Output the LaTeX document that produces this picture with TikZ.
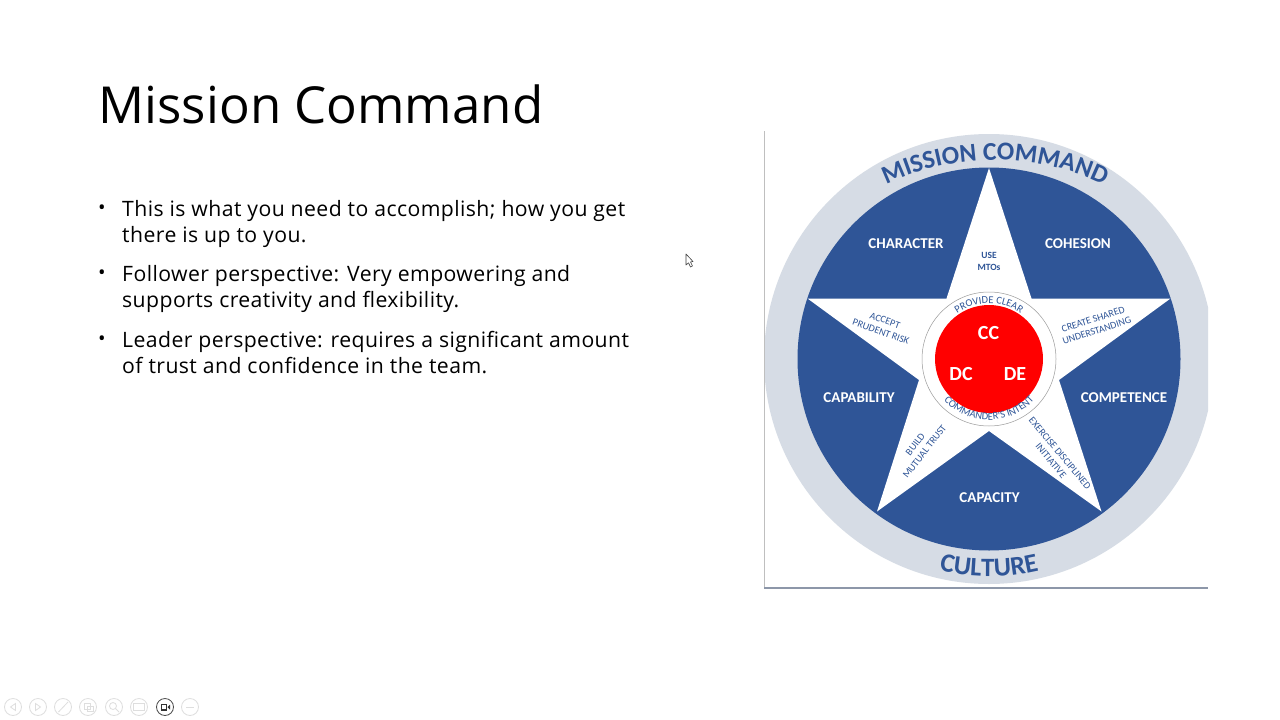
\documentclass[tikz,border=0pt]{standalone}
\usepackage{fontspec}
\setmainfont{Open Sans}
\newfontfamily\bodyfont[LetterSpace=2]{Open Sans}
\newfontfamily\starfont{Carlito}
\usetikzlibrary{decorations.text}
\definecolor{starblue}{HTML}{2F5597}
\definecolor{ringgray}{HTML}{D6DCE5}
\definecolor{toolgray}{HTML}{DEDEDE}
\newcommand{\px}[1]{\fontsize{#1}{#1}\selectfont}

\begin{document}
\begin{tikzpicture}[x=1pt,y=1pt,
	bodytext/.style={anchor=base west,align=left,inner sep=0pt,font=\bodyfont\fontsize{21.2}{26}\selectfont},
	dotmark/.style={inner sep=0pt,font=\px{20}},
	petal/.style={inner sep=0pt,text=white,font=\starfont\bfseries\px{15}},
	hint/.style={inner sep=0pt,align=center,text=starblue,font=\starfont\fontsize{10}{11.8}\selectfont},
	core/.style={inner sep=0pt,text=white,font=\starfont\bfseries\px{20}},
	tool/.style={draw=toolgray,line width=0.8pt}]
	\useasboundingbox (0,0) rectangle (1280,-720);
	\fill[white] (0,0) rectangle (1280,-720);

	\coordinate (centre) at (989,-359);
	\coordinate (flatcentre) at (995,-412);
	\node[anchor=west,inner sep=0pt,font=\fontsize{51}{51}\selectfont] (title) at (98.5,-104) {Mission Command};

	\node[dotmark] (dot1) at (102,-210) {•};
	\node[bodytext] (point1) at (122,-242) {This is what you need to accomplish; how you get\\there is up to you.};
	\node[dotmark] (dot2) at (102,-275) {•};
	\node[bodytext] (point2) at (122,-307) {Follower perspective: Very empowering and\\supports creativity and flexibility.};
	\node[dotmark] (dot3) at (102,-341) {•};
	\node[bodytext] (point3) at (122,-373) {Leader perspective: requires a significant amount\\of trust and confidence in the team.};

	% picture frame and the wheel
	\begin{scope}
		\clip (764,-131) rectangle (1208,-588);
		\fill[ringgray] (centre) circle (225);
	\end{scope}
	\draw[gray!50,line width=0.6pt] (764.5,-131) -- (764.5,-588);
	\draw[black!45!starblue!50,line width=1.5pt] (764,-588) -- (1208,-588);
	\fill[starblue] (centre) circle (191.5);
	\fill[white] (989,-168) -- (1031.5,-298.5) -- (1170.5,-298.5) -- (1059,-380) -- (1101.5,-511.5)
		-- (989,-431) -- (877,-511.5) -- (919,-380) -- (807.5,-298.5) -- (946.5,-298.5) -- cycle;
	\draw[gray!80,line width=0.5pt] (centre) circle (67);
	\fill[red] (centre) circle (54);

	\path[decorate,decoration={text along path,text align=center,
		text={|\starfont\bfseries\px{25.7}\color{starblue}|MISSION COMMAND}}]
		(flatcentre) ++(125:252) arc (125:55:252);
	\path[decorate,decoration={text along path,text align=center,
		text={|\starfont\bfseries\px{26.5}\color{starblue}|CULTURE}}]
		(centre) ++(240:217.5) arc (240:300:217.5);
	\path[decorate,decoration={text along path,text align=center,
		text={|\starfont\px{10.5}\color{starblue}|PROVIDE CLEAR}}]
		(centre) ++(150:55.5) arc (150:30:55.5);
	\path[decorate,decoration={text along path,text align=center,
		text={|\starfont\px{10.5}\color{starblue}|COMMANDER'S INTENT}}]
		(centre) ++(205:61) arc (205:335:61);

	\node[petal] (character) at (906,-244) {CHARACTER};
	\node[petal] (cohesion) at (1078,-244) {COHESION};
	\node[petal] (capability) at (859,-398) {CAPABILITY};
	\node[petal] (competence) at (1124,-398) {COMPETENCE};
	\node[petal] (capacity) at (989.5,-498) {CAPACITY};

	\node[hint,font=\starfont\bfseries\fontsize{9.5}{12}\selectfont] (mtos) at (989,-261.5) {USE\\MTOs};
	\node[hint,rotate=-20] (risk) at (883,-326) {ACCEPT\\PRUDENT RISK};
	\node[hint,rotate=18] (shared) at (1095,-325) {CREATE SHARED\\UNDERSTANDING};
	\node[hint,rotate=52] (trust) at (920,-448) {BUILD\\MUTUAL TRUST};
	\node[hint,rotate=-50] (initiative) at (1055.5,-457) {EXERCISE DISCIPLINED\\INITIATIVE};

	\node[core] (cc) at (988.5,-333.5) {CC};
	\node[core] (dc) at (961,-374.5) {DC};
	\node[core] (de) at (1015,-374.5) {DE};

	% slide show toolbar
	\foreach \x in {13,38,63,88,114,139,190}
		\draw[tool] (\x,-707) circle (8.5);
	\draw[black!70,line width=0.8pt] (165,-707) circle (8.5);
	\fill[black!80] (160.5,-710.5) rectangle (167,-703.5);
	\fill[white] (161.8,-709.2) rectangle (165.7,-704.8);
	\fill[black!80] (167.5,-707) -- (170,-709.5) -- (170,-704.5) -- cycle;
	\draw[tool] (15.5,-703.5) -- (10.5,-707) -- (15.5,-710.5) -- cycle;
	\draw[tool] (35.5,-703.5) -- (40.5,-707) -- (35.5,-710.5) -- cycle;
	\draw[tool] (58.5,-712) -- (68,-702);
	\draw[tool] (84,-703.5) rectangle (90,-709);
	\draw[tool] (87,-706) rectangle (93,-711);
	\draw[tool] (113,-706) circle (3.5) (115.5,-708.5) -- (119,-712);
	\draw[tool] (133.5,-703.5) rectangle (144.5,-710.5);
	\draw[tool] (186,-707) -- (194,-707);

	% pointer
	\draw[black!75,fill=white,line width=0.6pt,line join=round] (686,-254) -- (686,-265) -- (688.5,-262.8)
		-- (690.5,-267) -- (692.5,-266) -- (690.5,-262) -- (693,-261.5) -- cycle;
\end{tikzpicture}
\end{document}
